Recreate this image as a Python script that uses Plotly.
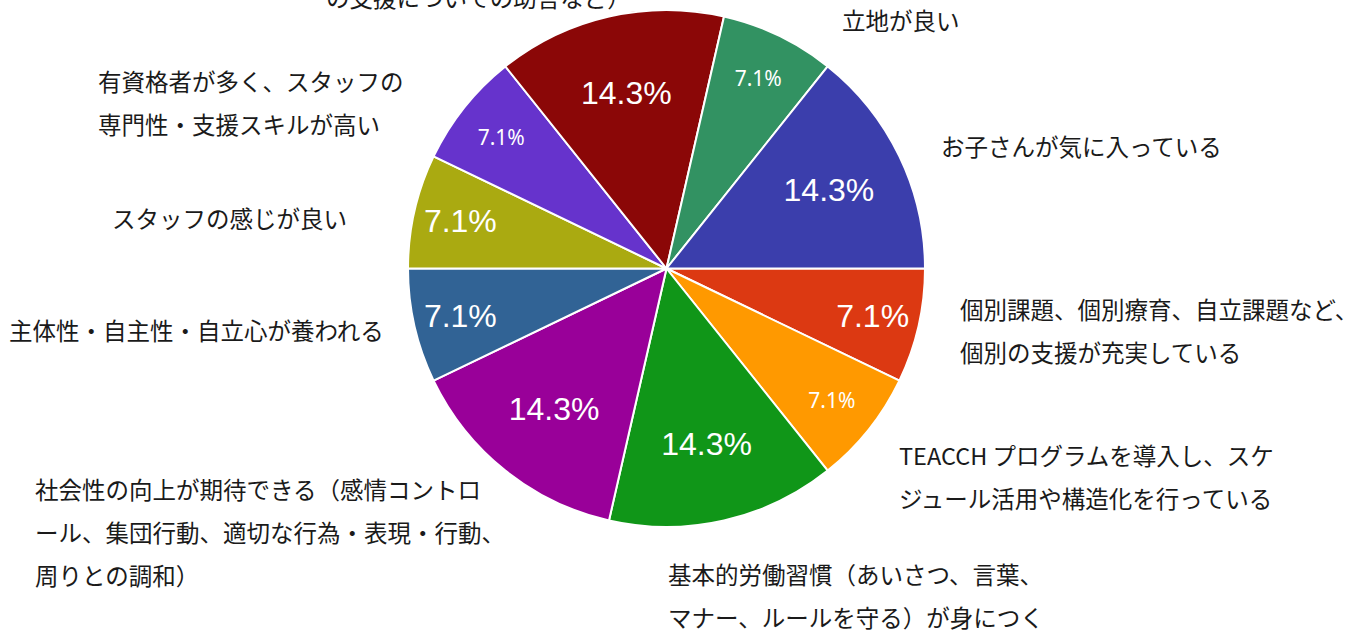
import plotly.graph_objects as go

W, H = 1363, 633

# Responses (count of answers) listed clockwise from 3 o'clock
categories = [
    "個別課題、個別療育、自立課題など、個別の支援が充実している",
    "TEACCH プログラムを導入し、スケジュール活用や構造化を行っている",
    "基本的労働習慣（あいさつ、言葉、マナー、ルールを守る）が身につく",
    "社会性の向上が期待できる（感情コントロール、集団行動、適切な行為・表現・行動、周りとの調和）",
    "主体性・自主性・自立心が養われる",
    "スタッフの感じが良い",
    "有資格者が多く、スタッフの専門性・支援スキルが高い",
    "保護者への支援がある（子育ての相談、家庭での子ども の支援についての助言など）",
    "立地が良い",
    "お子さんが気に入っている",
]
counts = [1, 1, 2, 2, 1, 1, 1, 2, 1, 2]

colors = [
    "#DC3912", "#FF9900", "#109618", "#990099", "#316395",
    "#AAAA11", "#6633CC", "#8B0707", "#329262", "#3B3EAC",
]

# percentage text style per slice (large Arial-like vs small light)
big = ("Liberation Sans, Arial, sans-serif", 32)
small = ("Noto Sans, sans-serif", 21)
text_styles = [big, small, big, big, big, big, small, big, small, big]

# category label lines: (lines, left x px, first-line centre y px)
label_lines = [
    (["個別課題、個別療育、自立課題など、", "個別の支援が充実している"], 958, 309),
    (["TEACCH プログラムを導入し、スケ", "ジュール活用や構造化を行っている"], 897, 455),
    (["基本的労働習慣（あいさつ、言葉、", "マナー、ルールを守る）が身につく"], 666, 574),
    (["社会性の向上が期待できる（感情コントロ", "ール、集団行動、適切な行為・表現・行動、", "周りとの調和）"], 33, 489),
    (["主体性・自主性・自立心が養われる"], 7, 330),
    (["スタッフの感じが良い"], 110, 218),
    (["有資格者が多く、スタッフの", "専門性・支援スキルが高い"], 96, 81),
    (["保護者への支援がある（子育ての相談、家庭での子ども", "の支援についての助言など）"], 324, -46),
    (["立地が良い"], 840, 20),
    (["お子さんが気に入っている"], 939, 146),
]
line_gap = 43

fig = go.Figure(
    go.Pie(
        labels=categories,
        values=counts,
        sort=False,
        direction="clockwise",
        rotation=90,
        marker=dict(colors=colors, line=dict(color="white", width=2)),
        textinfo="percent",
        texttemplate="%{percent:.1%}",
        textposition="inside",
        insidetextorientation="horizontal",
        textfont=dict(
            color="white",
            family=[s[0] for s in text_styles],
            size=[s[1] for s in text_styles],
        ),
        hoverinfo="label+value+percent",
        showlegend=False,
        domain=dict(x=[408 / W, 925 / W], y=[1 - 527 / H, 1 - 10 / H]),
    )
)

annotations = []
for lines, x0, y0 in label_lines:
    for i, line in enumerate(lines):
        annotations.append(
            dict(
                text=line,
                x=x0 / W,
                y=1 - (y0 + i * line_gap) / H,
                xref="paper",
                yref="paper",
                xanchor="left",
                yanchor="middle",
                showarrow=False,
                font=dict(family="Noto Sans CJK JP, sans-serif", size=23.5, color="#1a1a1a"),
            )
        )

fig.update_layout(
    width=W,
    height=H,
    margin=dict(l=0, r=0, t=0, b=0),
    paper_bgcolor="white",
    plot_bgcolor="white",
    annotations=annotations,
)

fig.write_html("out.html")
